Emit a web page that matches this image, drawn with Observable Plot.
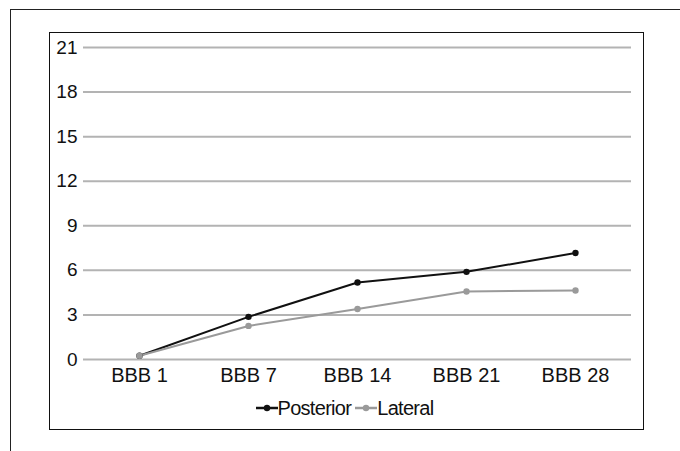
<!DOCTYPE html>
<html>
<head>
<meta charset="utf-8">
<script src="https://cdn.jsdelivr.net/npm/d3@7"></script>
<script src="https://cdn.jsdelivr.net/npm/@observablehq/plot@0.6"></script>
<style>
  html, body { margin: 0; padding: 0; background: #fff; width: 680px; height: 451px; overflow: hidden; }
  body { font-family: "Liberation Sans", Arial, Helvetica, sans-serif; position: relative; }
  #outer { position: absolute; left: 10px; top: 9px; width: 680px; height: 460px;
           border-left: 1.5px solid #222; border-top: 1.5px solid #222; }
  #inner { position: absolute; left: 49px; top: 32px; width: 593px; height: 396px;
           border: 1.5px solid #111; background: #fff; }
  #legend { display: flex; justify-content: center; align-items: center; font-size: 20px;
            letter-spacing: -0.7px; color: #111; margin-top: 3px; height: 24px; }
  #legend .item { display: flex; align-items: center; }
  #legend svg { display: block; }
</style>
</head>
<body>
<div id="outer"></div>
<div id="inner">
  <div id="chart"></div>
  <div id="legend"></div>
</div>
<script>
const categories = ["BBB 1", "BBB 7", "BBB 14", "BBB 21", "BBB 28"];
const posterior = [0.25, 2.87, 5.18, 5.9, 7.17];
const lateral = [0.25, 2.26, 3.4, 4.58, 4.64];
const yTicks = [0, 3, 6, 9, 12, 15, 18, 21];
const seriesNames = ["Posterior", "Lateral"];
const seriesColors = ["#111111", "#9a9a9a"];

const rows = [];
categories.forEach((c, i) => {
  rows.push({cat: c, value: posterior[i], series: seriesNames[0]});
});
categories.forEach((c, i) => {
  rows.push({cat: c, value: lateral[i], series: seriesNames[1]});
});

const chart = Plot.plot({
  width: 593,
  height: 360,
  marginTop: 14,
  marginBottom: 34,
  marginLeft: 33,
  marginRight: 12,
  style: {fontFamily: '"Liberation Sans", Arial, Helvetica, sans-serif', fontSize: "19px", color: "#111", background: "transparent"},
  x: {type: "point", domain: categories, padding: 0.5, label: null},
  y: {domain: [0, 21], label: null},
  color: {domain: seriesNames, range: seriesColors},
  marks: [
    Plot.ruleY(yTicks, {stroke: "#b3b3b3", strokeWidth: 2}),
    Plot.axisY(yTicks, {tickSize: 0, tickPadding: 6, fontSize: 19, label: null, style: "letter-spacing:-1.4px"}),
    Plot.axisX({tickSize: 0, tickPadding: 8, fontSize: 20, label: null, style: "letter-spacing:-1.1px"}),
    Plot.line(rows, {x: "cat", y: "value", z: "series", stroke: "series", strokeWidth: 2}),
    Plot.dot(rows, {x: "cat", y: "value", fill: "series", r: 3.2})
  ]
});
document.getElementById("chart").appendChild(chart);

const legend = document.getElementById("legend");
seriesNames.forEach((name, i) => {
  const item = document.createElement("div");
  item.className = "item";
  item.innerHTML = `<svg width="22" height="10"><line x1="0" y1="5" x2="22" y2="5" stroke="${seriesColors[i]}" stroke-width="2.5"/><circle cx="11" cy="5" r="3.2" fill="${seriesColors[i]}"/></svg><span style="margin-right:4px">${name}</span>`;
  legend.appendChild(item);
});
</script>
</body>
</html>
